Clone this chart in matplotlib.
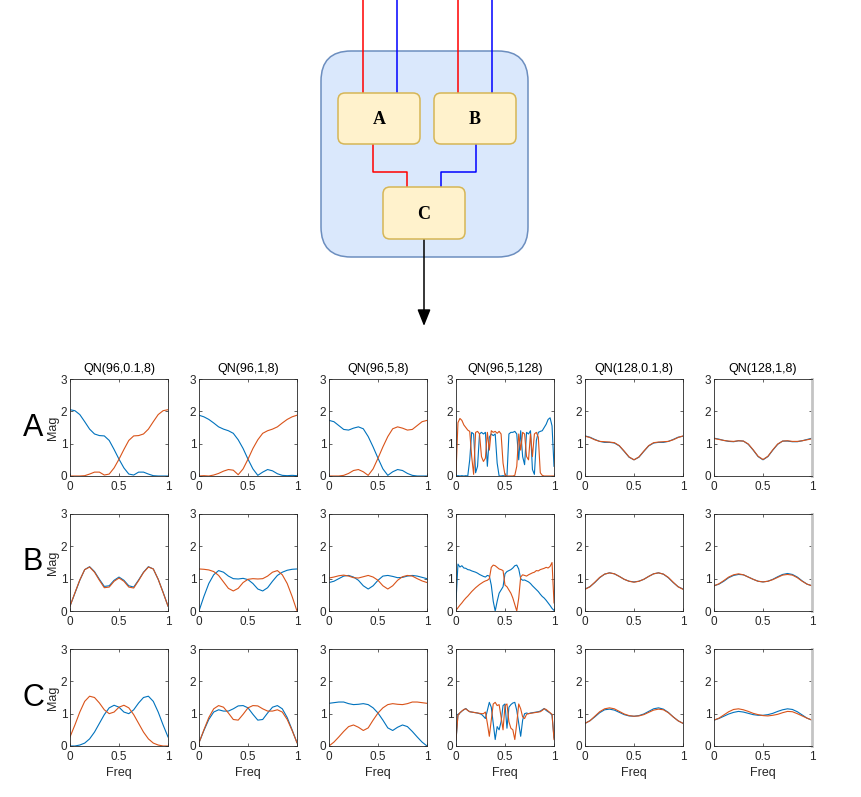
import numpy as np
import matplotlib
matplotlib.use('Agg')
import matplotlib.pyplot as plt
from matplotlib.patches import FancyBboxPatch

plt.rcParams['font.family'] = ['Liberation Sans', 'DejaVu Sans']

W, H = 862, 797

# frequency grids
freq = np.linspace(0, 1, 21)
freq_fine = np.linspace(0, 1, 51)

titles = ['QN(96,0.1,8)', 'QN(96,1,8)', 'QN(96,5,8)', 'QN(96,5,128)', 'QN(128,0.1,8)', 'QN(128,1,8)']
row_names = ['A', 'B', 'C']

# ---- row A ----
a1_blue = [2.05, 2.02, 1.90, 1.68, 1.45, 1.30, 1.25, 1.24, 1.10, 0.82, 0.52, 0.25, 0.06, 0.03, 0.12, 0.12, 0.06, 0.01, 0.0, 0.0, 0.0]
a1_orange = [0.0, 0.0, 0.0, 0.01, 0.06, 0.12, 0.12, 0.03, 0.06, 0.25, 0.52, 0.82, 1.10, 1.24, 1.25, 1.30, 1.45, 1.68, 1.90, 2.02, 2.05]
a2_blue = [1.88, 1.83, 1.75, 1.64, 1.52, 1.45, 1.40, 1.32, 1.12, 0.85, 0.52, 0.22, 0.02, 0.12, 0.20, 0.16, 0.07, 0.02, 0.01, 0.02, 0.01]
a2_orange = [0.0, 0.01, 0.0, 0.03, 0.08, 0.15, 0.20, 0.18, 0.04, 0.22, 0.52, 0.85, 1.12, 1.32, 1.40, 1.45, 1.52, 1.64, 1.75, 1.83, 1.88]
a3_blue = [1.72, 1.68, 1.56, 1.44, 1.42, 1.48, 1.52, 1.46, 1.22, 0.90, 0.55, 0.22, 0.02, 0.13, 0.20, 0.17, 0.08, 0.02, 0.0, 0.0, 0.0]
a3_orange = [0.0, 0.0, 0.0, 0.02, 0.08, 0.17, 0.20, 0.13, 0.02, 0.22, 0.55, 0.90, 1.22, 1.46, 1.52, 1.48, 1.42, 1.44, 1.56, 1.68, 1.72]
a4_blue = [0.0, 0.01, 0.0, 0.01, 0.0, 0.01, 0.0, 0.5, 1.35, 1.30, 0.10, 0.30, 1.30, 1.35, 1.30, 1.35, 0.30, 1.20, 1.30, 1.25,
           1.30, 0.40, 0.0, 0.0, 0.01, 0.0, 0.0, 1.30, 1.35, 1.35, 1.38, 1.30, 0.50, 1.40, 0.60, 0.35, 1.35, 1.30, 1.40, 0.20,
           0.05, 1.10, 1.35, 1.38, 1.40, 1.50, 1.60, 1.75, 1.80, 1.55, 0.30]
a4_orange = [0.10, 1.65, 1.78, 1.72, 1.58, 1.50, 1.42, 1.38, 0.60, 0.05, 1.35, 1.38, 1.30, 0.60, 0.45, 0.55, 1.35, 0.80, 1.40, 1.35,
             1.38, 1.32, 1.38, 1.30, 0.40, 0.02, 0.0, 0.0, 0.0, 0.0, 0.02, 0.30, 1.30, 0.80, 1.35, 1.30, 0.60, 0.50, 1.30, 0.60,
             1.30, 1.35, 1.20, 0.10, 0.02, 0.0, 0.0, 0.0, 0.0, 0.0, 0.0]
a5_blue = [1.24, 1.20, 1.13, 1.07, 1.04, 1.04, 1.02, 0.93, 0.76, 0.58, 0.50, 0.58, 0.76, 0.93, 1.02, 1.04, 1.04, 1.07, 1.13, 1.20, 1.23]
a5_orange = [1.23, 1.19, 1.12, 1.07, 1.06, 1.05, 1.03, 0.94, 0.77, 0.59, 0.50, 0.59, 0.77, 0.94, 1.03, 1.05, 1.06, 1.07, 1.12, 1.19, 1.24]
a6_blue = [1.17, 1.14, 1.10, 1.07, 1.06, 1.09, 1.08, 0.98, 0.80, 0.60, 0.50, 0.60, 0.80, 0.98, 1.08, 1.08, 1.06, 1.06, 1.09, 1.13, 1.17]
a6_orange = [1.16, 1.13, 1.10, 1.08, 1.07, 1.09, 1.08, 0.99, 0.81, 0.61, 0.51, 0.61, 0.81, 0.99, 1.08, 1.09, 1.07, 1.07, 1.09, 1.12, 1.15]

# ---- row B ----
b1_blue = [0.15, 0.55, 0.95, 1.28, 1.37, 1.22, 0.98, 0.76, 0.78, 0.95, 1.05, 0.95, 0.78, 0.74, 0.96, 1.20, 1.37, 1.30, 0.98, 0.58, 0.15]
b1_orange = [0.15, 0.56, 0.96, 1.28, 1.36, 1.20, 0.95, 0.72, 0.74, 0.92, 1.02, 0.92, 0.74, 0.71, 0.94, 1.19, 1.36, 1.30, 0.98, 0.57, 0.15]
b2_blue = [0.0, 0.45, 0.85, 1.12, 1.25, 1.20, 1.08, 1.00, 0.99, 1.01, 0.97, 0.85, 0.68, 0.62, 0.72, 0.92, 1.10, 1.20, 1.26, 1.29, 1.30]
b2_orange = [1.30, 1.29, 1.27, 1.22, 1.10, 0.90, 0.70, 0.62, 0.70, 0.88, 0.98, 1.00, 0.99, 1.00, 1.08, 1.20, 1.25, 1.12, 0.85, 0.45, 0.0]
b3_blue = [0.88, 0.92, 1.00, 1.08, 1.10, 1.05, 0.95, 0.78, 0.68, 0.78, 0.95, 1.08, 1.10, 1.07, 1.03, 1.04, 1.08, 1.10, 1.08, 1.04, 1.00]
b3_orange = [1.02, 1.05, 1.09, 1.11, 1.08, 1.03, 1.02, 1.06, 1.10, 1.05, 0.95, 0.78, 0.68, 0.78, 0.95, 1.06, 1.10, 1.08, 1.00, 0.93, 0.88]
b4_blue = [0.30, 1.45, 1.36, 1.40, 1.33, 1.32, 1.28, 1.27, 1.24, 1.22, 1.20, 1.17, 1.13, 1.10, 1.07, 1.05, 1.10, 1.08, 0.80, 0.30,
           0.0, 0.30, 0.55, 0.65, 0.75, 1.15, 1.22, 1.25, 1.28, 1.33, 1.40, 1.42, 1.30, 1.00, 0.95, 0.96, 0.93, 0.90, 0.85, 0.78,
           0.72, 0.66, 0.60, 0.52, 0.45, 0.40, 0.33, 0.25, 0.17, 0.08, 0.02]
b4_orange = [0.02, 0.10, 0.18, 0.25, 0.33, 0.40, 0.46, 0.53, 0.60, 0.66, 0.72, 0.77, 0.82, 0.86, 0.90, 0.93, 0.95, 1.00, 1.35, 1.42,
             1.40, 1.35, 1.30, 1.28, 1.25, 0.80, 0.75, 0.65, 0.55, 0.40, 0.20, 0.0, 0.40, 1.05, 1.12, 1.10, 1.08, 1.12, 1.15, 1.18,
             1.20, 1.25, 1.24, 1.28, 1.30, 1.32, 1.35, 1.33, 1.38, 1.50, 0.25]
b5_blue = [0.68, 0.75, 0.88, 1.03, 1.14, 1.18, 1.15, 1.07, 0.98, 0.92, 0.90, 0.92, 0.98, 1.07, 1.15, 1.18, 1.14, 1.03, 0.88, 0.75, 0.68]
b5_orange = [0.67, 0.75, 0.89, 1.04, 1.14, 1.18, 1.15, 1.07, 0.98, 0.92, 0.89, 0.92, 0.98, 1.07, 1.15, 1.18, 1.14, 1.04, 0.89, 0.75, 0.67]
b6_blue = [0.78, 0.83, 0.92, 1.03, 1.10, 1.13, 1.12, 1.05, 0.98, 0.92, 0.90, 0.92, 0.98, 1.06, 1.13, 1.16, 1.13, 1.05, 0.93, 0.83, 0.78]
b6_orange = [0.78, 0.84, 0.94, 1.05, 1.12, 1.15, 1.12, 1.05, 0.98, 0.92, 0.90, 0.92, 0.97, 1.04, 1.11, 1.13, 1.11, 1.03, 0.92, 0.83, 0.78]

# ---- row C ----
c1_blue = [0.0, 0.0, 0.03, 0.09, 0.22, 0.43, 0.70, 0.97, 1.18, 1.26, 1.20, 1.05, 1.00, 1.12, 1.33, 1.50, 1.54, 1.38, 1.05, 0.65, 0.28]
c1_orange = [0.28, 0.65, 1.05, 1.38, 1.54, 1.50, 1.33, 1.12, 1.00, 1.05, 1.20, 1.26, 1.18, 0.97, 0.70, 0.43, 0.22, 0.09, 0.03, 0.0, 0.0]
c2_blue = [0.10, 0.48, 0.82, 1.05, 1.12, 1.08, 1.08, 1.15, 1.24, 1.25, 1.18, 0.98, 0.80, 0.82, 1.02, 1.20, 1.25, 1.15, 0.88, 0.50, 0.10]
c2_orange = [0.10, 0.50, 0.88, 1.15, 1.25, 1.20, 1.02, 0.82, 0.80, 0.98, 1.18, 1.25, 1.24, 1.15, 1.08, 1.08, 1.12, 1.05, 0.82, 0.48, 0.10]
c3_blue = [1.32, 1.34, 1.36, 1.36, 1.31, 1.28, 1.29, 1.31, 1.28, 1.18, 1.02, 0.80, 0.56, 0.48, 0.58, 0.65, 0.60, 0.45, 0.28, 0.12, 0.0]
c3_orange = [0.0, 0.12, 0.28, 0.45, 0.60, 0.65, 0.58, 0.48, 0.56, 0.80, 1.02, 1.18, 1.28, 1.31, 1.29, 1.28, 1.31, 1.36, 1.36, 1.34, 1.32]
c4_blue = [0.15, 0.98, 1.02, 1.08, 1.12, 1.16, 1.10, 1.06, 1.05, 1.04, 1.03, 1.02, 1.00, 0.98, 0.92, 0.85, 1.10, 1.35, 1.20, 0.70,
           0.20, 0.60, 0.50, 0.75, 1.25, 1.30, 0.55, 1.20, 1.28, 1.33, 1.35, 1.10, 0.70, 0.30, 0.80, 1.00, 1.02, 1.00, 1.02, 1.03,
           1.04, 1.05, 1.06, 1.08, 1.12, 1.16, 1.10, 1.06, 1.02, 0.95, 0.25]
c4_orange = [0.20, 0.95, 1.03, 1.08, 1.13, 1.15, 1.10, 1.06, 1.05, 1.04, 1.03, 1.02, 1.01, 1.00, 1.00, 1.05, 0.70, 0.30, 0.80, 1.30,
             1.35, 1.25, 1.28, 0.90, 0.50, 1.25, 1.30, 0.75, 0.55, 0.50, 0.20, 0.70, 1.30, 1.15, 0.90, 0.85, 0.98, 1.00, 1.01, 1.02,
             1.03, 1.04, 1.05, 1.06, 1.10, 1.15, 1.13, 1.08, 1.03, 0.98, 0.20]
c5_blue = [0.70, 0.78, 0.90, 1.03, 1.12, 1.14, 1.11, 1.04, 0.97, 0.93, 0.92, 0.94, 0.99, 1.07, 1.15, 1.18, 1.14, 1.04, 0.90, 0.78, 0.70]
c5_orange = [0.70, 0.78, 0.92, 1.06, 1.15, 1.18, 1.15, 1.07, 0.99, 0.94, 0.92, 0.93, 0.97, 1.04, 1.11, 1.14, 1.12, 1.03, 0.90, 0.78, 0.70]
c6_blue = [0.80, 0.85, 0.92, 0.99, 1.04, 1.07, 1.05, 1.01, 0.97, 0.95, 0.95, 0.97, 1.01, 1.07, 1.12, 1.15, 1.13, 1.06, 0.96, 0.86, 0.80]
c6_orange = [0.80, 0.86, 0.96, 1.06, 1.13, 1.15, 1.12, 1.07, 1.01, 0.97, 0.94, 0.93, 0.95, 0.98, 1.03, 1.07, 1.06, 1.00, 0.93, 0.86, 0.80]

panels = [
    [(a1_blue, a1_orange), (a2_blue, a2_orange), (a3_blue, a3_orange), (a4_blue, a4_orange), (a5_blue, a5_orange), (a6_blue, a6_orange)],
    [(b1_blue, b1_orange), (b2_blue, b2_orange), (b3_blue, b3_orange), (b4_blue, b4_orange), (b5_blue, b5_orange), (b6_blue, b6_orange)],
    [(c1_blue, c1_orange), (c2_blue, c2_orange), (c3_blue, c3_orange), (c4_blue, c4_orange), (c5_blue, c5_orange), (c6_blue, c6_orange)],
]

BLUE = '#0072BD'
ORANGE = '#D95319'
AXC = '#262626'


def rect(l, t, w, h):
    return [l / W, 1 - (t + h) / H, w / W, h / H]


fig = plt.figure(figsize=(W / 100, H / 100), dpi=100)

# overlay for the block diagram, pixel coordinates
bg = fig.add_axes([0, 0, 1, 1], zorder=0)
bg.set_xlim(0, W)
bg.set_ylim(H, 0)
bg.axis('off')

bg.add_patch(FancyBboxPatch((321, 51), 207, 206, boxstyle='round,pad=0,rounding_size=30',
                            facecolor='#dae8fc', edgecolor='#6c8ebf', lw=1.1, zorder=1))
for (x0, y0, w, h, lab) in [(338, 93, 82, 51, 'A'), (434, 93, 82, 51, 'B'), (383, 187, 82, 52, 'C')]:
    bg.add_patch(FancyBboxPatch((x0, y0), w, h, boxstyle='round,pad=0,rounding_size=7',
                                facecolor='#fff2cc', edgecolor='#d6b656', lw=1.1, zorder=3))
    bg.text(x0 + w / 2, y0 + h / 2 + 1, lab, ha='center', va='center', fontsize=13,
            fontweight='bold', family='Liberation Serif', color='black', zorder=4)

red, blue = '#ff0000', '#0000ff'
bg.plot([363, 363], [0, 93], color=red, lw=1.1, zorder=2)
bg.plot([397, 397], [0, 93], color=blue, lw=1.1, zorder=2)
bg.plot([458, 458], [0, 93], color=red, lw=1.1, zorder=2)
bg.plot([492, 492], [0, 93], color=blue, lw=1.1, zorder=2)
bg.plot([373, 373, 407, 407], [144, 172, 172, 187], color=red, lw=1.1, zorder=2)
bg.plot([476, 476, 441, 441], [144, 172, 172, 187], color=blue, lw=1.1, zorder=2)
bg.annotate('', xy=(424, 326), xytext=(424, 239),
            arrowprops=dict(arrowstyle='-|>,head_length=1.0,head_width=0.4', color='black', lw=1.1,
                            shrinkA=0, shrinkB=0), zorder=2)

# spectra panels
lefts = [70, 199, 329, 456, 585, 714]
tops = [379, 514, 649]
aw, ah = 98, 97

for r in range(3):
    for c in range(6):
        ax = fig.add_axes(rect(lefts[c], tops[r], aw, ah), zorder=2)
        yb, yo = panels[r][c]
        x = freq_fine if len(yb) == len(freq_fine) else freq
        ax.plot(x, yb, color=BLUE, lw=0.8)
        ax.plot(x, yo, color=ORANGE, lw=0.8)
        ax.set_xlim(0, 1)
        ax.set_ylim(0, 3)
        ax.set_xticks([0, 0.5, 1])
        ax.set_xticklabels(['0', '0.5', '1'])
        ax.set_yticks([0, 1, 2, 3])
        ax.tick_params(direction='in', length=2.5, width=0.5, top=True, right=True,
                       labelsize=8.5, colors=AXC)
        ax.tick_params(axis='x', pad=3.5)
        ax.tick_params(axis='y', pad=2)
        for s in ax.spines.values():
            s.set_color(AXC)
            s.set_linewidth(0.6)
        if c == 5:
            ax.spines['right'].set_color('#c4c4c4')
            ax.spines['right'].set_linewidth(2)
        if r == 0:
            ax.text(0.5, 1 + 10 / ah, titles[c], transform=ax.transAxes, ha='center', va='center',
                    fontsize=9, color='black')
        if c == 0:
            ax.set_ylabel('Mag', fontsize=9, color=AXC)
            ax.yaxis.set_label_coords(-17 / aw, 0.5)
            ax.yaxis.label.set_va('center')
            fig.text(33 / W, 1 - (tops[r] + ah / 2) / H, row_names[r], ha='center', va='center',
                     fontsize=22, color='black')
        if r == 2:
            ax.set_xlabel('Freq', fontsize=9, color=AXC)
            ax.xaxis.set_label_coords(0.5, -27 / ah)
            ax.xaxis.label.set_va('center')

fig.savefig('out.png', dpi=100)
